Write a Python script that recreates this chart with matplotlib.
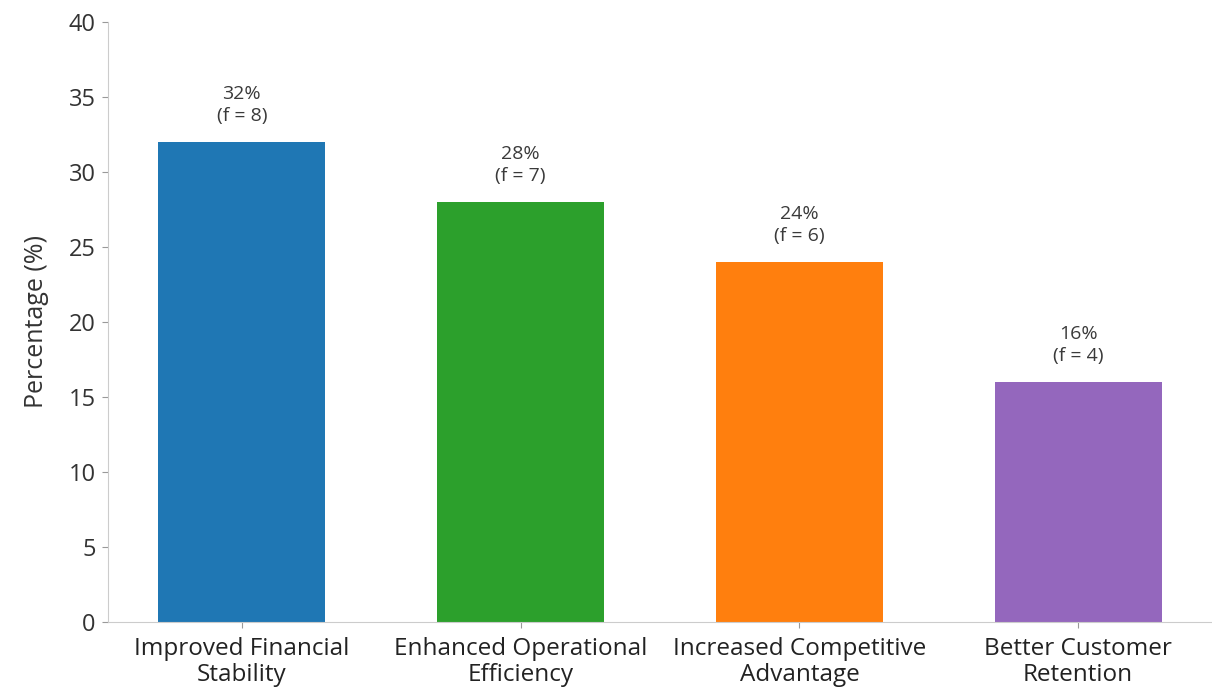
import matplotlib.pyplot as plt

categories = ['Improved Financial\nStability', 'Enhanced Operational\nEfficiency',
              'Increased Competitive\nAdvantage', 'Better Customer\nRetention']
percentages = [32, 28, 24, 16]
frequencies = [8, 7, 6, 4]
colors = ['#1f77b4', '#2ca02c', '#ff7f0e', '#9467bd']

plt.rcParams['font.family'] = ['Open Sans', 'DejaVu Sans']

fig = plt.figure(figsize=(12.12, 6.88), dpi=100)
ax = fig.add_axes([108 / 1212, 1 - 622 / 688, 1 - 108 / 1212, 600 / 688])

x = range(len(categories))
bars = ax.bar(x, percentages, width=0.6, color=colors)

# value labels above each bar
for bar, pct, f in zip(bars, percentages, frequencies):
    ax.text(bar.get_x() + bar.get_width() / 2, pct + 1.1, f'{pct}%\n(f = {f})',
            ha='center', va='bottom', fontsize=14, color='#3a3a3a', linespacing=1.3)

ax.set_xlim(-0.48, 3.48)
ax.set_ylim(0, 40)
ax.set_yticks(range(0, 41, 5))
ax.set_xticks(list(x))
ax.set_xticklabels(categories, fontsize=17.5, color='#222222', linespacing=1.15)
ax.tick_params(axis='y', labelsize=17, labelcolor='#333333', color='#999999',
               length=4.5, pad=4.5)
ax.tick_params(axis='x', color='#999999', length=4.5, pad=6)
ax.set_ylabel('Percentage (%)', fontsize=18, color='#333333', labelpad=14)

for side in ['top', 'right']:
    ax.spines[side].set_visible(False)
for side in ['left', 'bottom']:
    ax.spines[side].set_color('#cccccc')

fig.savefig('out.png', dpi=100)
